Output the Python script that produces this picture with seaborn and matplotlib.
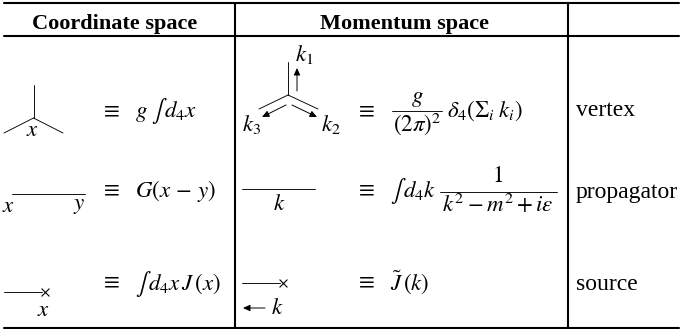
import matplotlib
matplotlib.use("Agg")
import matplotlib.pyplot as plt
import pandas as pd
import seaborn as sns

sns.set_theme(style="white")
plt.rcParams["font.family"] = ["Liberation Serif", "DejaVu Serif"]
plt.rcParams["mathtext.fontset"] = "stix"

# Table content
headers = ["Coordinate space", "Momentum space"]
row_names = ["vertex", "propagator", "source"]
coord_formulas = [r"$g\;\int\, d_4x$", r"$G(x\,-\,y)$", r"$\int\, d_4x\,J\,(x)$"]
mom_formulas = [r"$\delta_4(\Sigma_i\;k_i)$", r"$\int\, d_4k$", r"$\tilde{J}\,(k)$"]
frac_vertex = [r"$g$", r"$(2\pi)^2$"]
frac_prop = [r"$1$", r"$k^2-m^2+i\varepsilon$"]

# Diagram geometry in table pixels (x0, y0, x1, y1)
rules = [(4, 3, 679, 3), (4, 36, 679, 36), (4, 328, 679, 328),
         (235, 3, 235, 328), (568, 3, 568, 328)]
fraction_bars = [(392, 111, 442, 111), (440, 192, 557, 192)]
diagram_lines = [(33.5, 85, 33.5, 118), (33.5, 118, 4, 133), (33.5, 118, 63, 133),
                 (288, 62, 288, 95), (288, 95, 259, 109), (288, 95, 318, 109),
                 (12, 194, 85, 194), (242, 189, 315, 189),
                 (4, 292, 42, 292), (242, 283, 280, 283)]
arrows = [(297, 91, 297, 68), (286, 105, 262, 117), (292, 105, 317, 117), (265, 308, 243, 308)]
crosses = [(44.5, 292), (283, 283)]
labels = [(32, 131, r"$x$"), (304, 55, r"$k_1$"), (252, 125, r"$k_3$"), (331, 125, r"$k_2$"),
          (8, 206, r"$x$"), (79, 206, r"$y$"), (279, 205, r"$k$"),
          (43, 310, r"$x$"), (277, 308, r"$k$")]
equiv_x = [110, 365]
equiv_y = [112, 191, 283]


def segs(items, prefix):
    rows = []
    for i, (x0, y0, x1, y1) in enumerate(items):
        rows += [dict(seg=f"{prefix}{i}", x=x0, y=y0), dict(seg=f"{prefix}{i}", x=x1, y=y1)]
    return pd.DataFrame(rows)


fig = plt.figure(figsize=(6.8, 3.29), dpi=100)
ax = fig.add_axes([0, 0, 1, 1])

sns.lineplot(data=segs(rules, "r"), x="x", y="y", units="seg", estimator=None, sort=False,
             color="black", linewidth=1.5, ax=ax, legend=False)
sns.lineplot(data=segs(diagram_lines + fraction_bars, "d"), x="x", y="y", units="seg",
             estimator=None, sort=False, color="black", linewidth=0.65, ax=ax, legend=False)
sns.scatterplot(x=[c[0] for c in crosses], y=[c[1] for c in crosses], marker="x", s=32,
                color="black", linewidth=0.8, ax=ax, legend=False)

ax.set_xlim(0, 680)
ax.set_ylim(329, 0)
ax.set_xlabel("")
ax.set_ylabel("")
ax.axis("off")

for x0, y0, x1, y1 in arrows:
    ax.annotate("", xy=(x1, y1), xytext=(x0, y0),
                arrowprops=dict(arrowstyle="-|>,head_length=0.35,head_width=0.16", color="black",
                                lw=0.7, shrinkA=0, shrinkB=0))

FS = 16
RS = 17
MS = 16.5
ctr = dict(ha="center", va="center", color="black")
cbl = dict(ha="center", va="baseline", color="black")
lbl = dict(ha="left", va="baseline", color="black")

for cx, t in zip([115, 404], headers):
    ax.text(cx, 28.5, t, fontsize=FS, fontweight="bold", **cbl)

for x, y, t in labels:
    ax.text(x, y, t, fontsize=MS, **ctr)

for ex in equiv_x:
    for ey in equiv_y:
        ax.text(ex, ey, r"$\equiv$", fontsize=MS, **ctr)

for y, t in zip([117, 197, 290], coord_formulas):
    ax.text(135, y, t, fontsize=MS, **lbl)

ax.text(447, 117, mom_formulas[0], fontsize=MS, **lbl)
ax.text(390, 197, mom_formulas[1], fontsize=MS, **lbl)
ax.text(390, 290, mom_formulas[2], fontsize=MS, **lbl)

ax.text(417, 102, frac_vertex[0], fontsize=MS, **cbl)
ax.text(417, 131, frac_vertex[1], fontsize=MS, **cbl)
ax.text(498, 182, frac_prop[0], fontsize=MS, **cbl)
ax.text(498, 212, frac_prop[1], fontsize=MS, **cbl)

for y, t in zip([116, 198, 290], row_names):
    ax.text(576, y, t, fontsize=RS, **lbl)

fig.savefig("out.png", dpi=100)
